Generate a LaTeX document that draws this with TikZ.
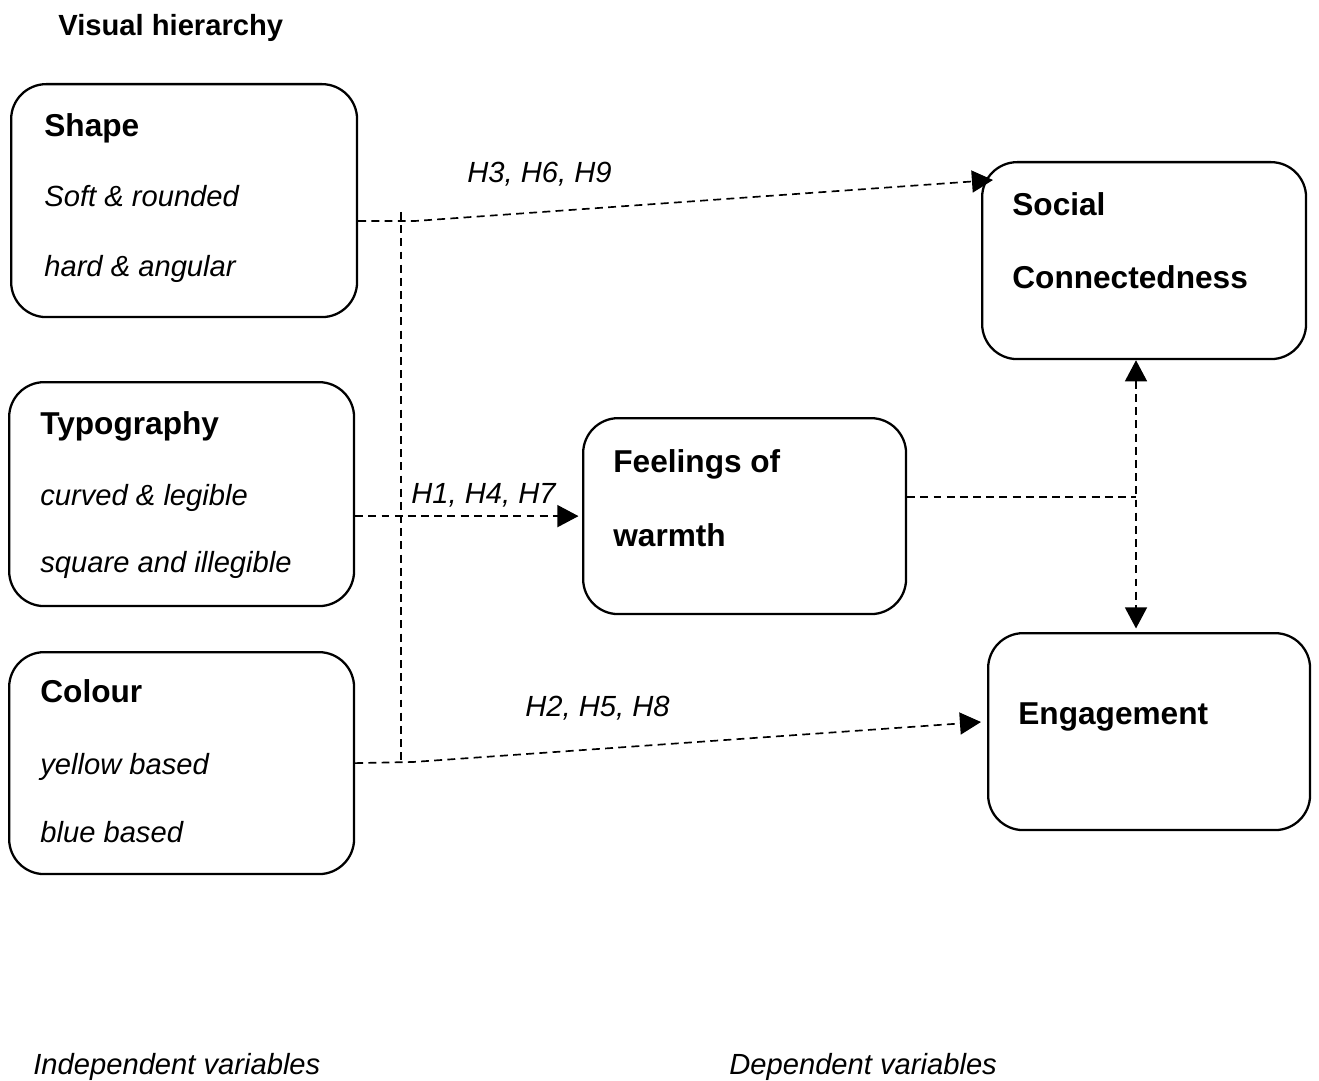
\documentclass[tikz,border=0pt]{standalone}
\usepackage{fontspec}
\setmainfont{Liberation Sans}
\usetikzlibrary{arrows.meta}
\tikzset{
  varbox/.style={draw,line width=1.3pt,rounded corners=20pt,anchor=north west,inner sep=0pt},
  head/.style={anchor=base west,inner sep=0pt,font=\fontsize{18}{20}\selectfont\bfseries},
  level/.style={anchor=base west,inner sep=0pt,font=\fontsize{16.6}{19}\selectfont\itshape},
  link/.style={line width=0.95pt,dash pattern=on 4.5pt off 3pt},
  tip/.style={-{Triangle[length=12pt,width=12.5pt]}}
}
\begin{document}
\begin{tikzpicture}[x=0.02cm,y=-0.02cm]
\useasboundingbox (0,0) rectangle (1319,1081);
\node[head,font=\fontsize{16.6}{19}\selectfont\bfseries] (title) at (58,36) {Visual hierarchy};

% independent variables
\node[varbox,minimum width=6.92cm,minimum height=4.66cm] (shape) at (10,83) {};
\node[varbox,minimum width=6.9cm,minimum height=4.48cm] (typo) at (8,381) {};
\node[varbox,minimum width=6.9cm,minimum height=4.44cm] (colour) at (8,651) {};
\node[head] (shapehd) at (44,137) {Shape};
\node[level] (shapeA) at (44,207) {Soft \& rounded};
\node[level] (shapeB) at (44,276) {hard \& angular};
\node[head] (typohd) at (40,434) {Typography};
\node[level] (typoA) at (40,505) {curved \& legible};
\node[level] (typoB) at (40,572) {square and illegible};
\node[head] (colourhd) at (40,702) {Colour};
\node[level] (colourA) at (40,774) {yellow based};
\node[level] (colourB) at (40,842) {blue based};

% dependent variables
\node[varbox,minimum width=6.48cm,minimum height=3.94cm] (social) at (981,161) {};
\node[varbox,minimum width=6.46cm,minimum height=3.92cm] (feel) at (582,417) {};
\node[varbox,minimum width=6.44cm,minimum height=3.94cm] (engage) at (987,632) {};
\node[head] (socialA) at (1012,216) {Social};
\node[head] (socialB) at (1012,289) {Connectedness};
\node[head] (feelA) at (613,472) {Feelings of};
\node[head] (feelB) at (613,546) {warmth};
\node[head] (engageA) at (1018,724) {Engagement};

% connectors
\coordinate (jtop) at (401,212);
\coordinate (jshape) at (415,221);
\coordinate (jcolour) at (413,762);
\coordinate (tsocial) at (993,180);
\coordinate (tengage) at (981,722);
\coordinate (jfeel) at (1136,497);
\draw[link] (jtop) -- (jtop |- jcolour);
\draw[link,tip] (shape.east |- jshape) -- (jshape) -- (tsocial);
\draw[link,tip] (typo.east |- feel.west) -- ([xshift=-2pt]feel.west);
\draw[link,tip] (colour.east) -- (jcolour) -- (tengage);
\draw[link] (feel.east |- jfeel) -- (jfeel);
\draw[link,{Triangle[length=12pt,width=12.5pt]}-{Triangle[length=12pt,width=12.5pt]}]
  (social.south -| jfeel) -- ([yshift=2pt]engage.north -| jfeel);

\node[level] (h369) at (467,183) {H3, H6, H9};
\node[level] (h147) at (411,503) {H1, H4, H7};
\node[level] (h258) at (525,716) {H2, H5, H8};

\node[level] (indep) at (33,1074) {Independent variables};
\node[level] (dep) at (729,1074) {Dependent variables};
\end{tikzpicture}
\end{document}
